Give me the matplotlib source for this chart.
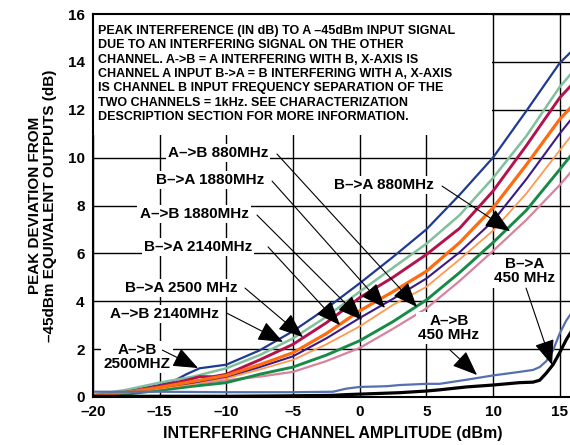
import numpy as np
import matplotlib
matplotlib.use('Agg')
import matplotlib.pyplot as plt
from matplotlib.patches import Rectangle

plt.rcParams['font.family'] = ['Liberation Sans', 'DejaVu Sans']
plt.rcParams['font.weight'] = 'bold'

# x values (dBm) for the main family of curves
x_main = [-20, -17.5, -15, -12.5, -10, -7.5, -5, -2.5, 0, 2.5, 5, 7.5, 10, 12.5, 15, 16]

# (dB)
navy_x = [-20, -17.5, -15, -14, -13, -12, -10, -7.5, -5, -2.5, 0, 2.5, 5, 7.5, 10, 12.5, 15, 16]
navy_y = [0.08, 0.25, 0.5, 0.65, 0.95, 1.2, 1.35, 1.95, 2.75, 3.7, 4.75, 5.85, 7.0, 8.45, 10.0, 11.95, 13.95, 14.5]
sage_y = [0.08, 0.3, 0.6, 0.85, 1.2, 1.75, 2.45, 3.35, 4.4, 5.4, 6.4, 7.6, 9.15, 10.9, 12.95, 13.6]
crimson_x = [-20, -17.5, -15, -13, -12, -11, -10, -7.5, -5, -2.5, 0, 2.5, 5, 7.5, 10, 12.5, 15, 16]
crimson_y = [0.05, 0.2, 0.45, 0.7, 0.85, 0.85, 0.95, 1.55, 2.2, 3.1, 4.15, 5.0, 5.95, 7.05, 8.6, 10.5, 12.5, 13.1]
orange_y = [0.05, 0.2, 0.4, 0.65, 0.9, 1.35, 1.85, 2.65, 3.6, 4.4, 5.25, 6.45, 7.9, 9.7, 11.6, 12.2]
indigo_y = [0.05, 0.2, 0.4, 0.6, 0.85, 1.25, 1.7, 2.45, 3.3, 4.1, 4.95, 6.05, 7.35, 9.1, 11.0, 11.7]
ltorange_y = [0.05, 0.18, 0.35, 0.55, 0.78, 1.15, 1.55, 2.2, 2.95, 3.85, 4.6, 5.75, 6.95, 8.5, 10.3, 11.0]
green_y = [0.05, 0.12, 0.28, 0.45, 0.6, 0.95, 1.25, 1.75, 2.35, 3.15, 4.05, 5.2, 6.45, 7.8, 9.5, 10.2]
pink_y = [0.05, 0.15, 0.35, 0.55, 0.7, 0.85, 1.05, 1.5, 2.05, 2.85, 3.7, 4.85, 6.1, 7.4, 8.85, 9.5]

# 450 MHz curves
x450 = [-20, -15, -10, -5, -2, -1, 0, 2, 3, 5, 6, 8, 10, 12, 13, 13.5, 14, 14.5, 15, 15.5, 16]
blue450_y = [0.22, 0.22, 0.2, 0.2, 0.22, 0.35, 0.42, 0.45, 0.5, 0.55, 0.55, 0.72, 0.9, 1.05, 1.13, 1.25, 1.5, 1.95, 2.65, 3.2, 3.6]
black450_y = [0.03, 0.03, 0.03, 0.05, 0.07, 0.1, 0.12, 0.16, 0.18, 0.25, 0.3, 0.42, 0.5, 0.6, 0.62, 0.7, 1.0, 1.35, 1.85, 2.4, 2.85]

xticks = [-20, -15, -10, -5, 0, 5, 10, 15]
xticklabels = ['–20', '–15', '–10', '–5', '0', '5', '10', '15']
yticks = [0, 2, 4, 6, 8, 10, 12, 14, 16]

box_text = ('PEAK INTERFERENCE (IN dB) TO A –45dBm INPUT SIGNAL\n'
            'DUE TO AN INTERFERING SIGNAL ON THE OTHER\n'
            'CHANNEL. A->B = A INTERFERING WITH B, X-AXIS IS\n'
            'CHANNEL A INPUT B->A = B INTERFERING WITH A, X-AXIS\n'
            'IS CHANNEL B INPUT FREQUENCY SEPARATION OF THE\n'
            'TWO CHANNELS = 1kHz. SEE CHARACTERIZATION\n'
            'DESCRIPTION SECTION FOR MORE INFORMATION.')

# label text, text centre, arrow start, arrow tip (data units)
labels = ['A–>B 880MHz', 'B–>A 1880MHz', 'A–>B 1880MHz', 'B–>A 2140MHz',
          'B–>A 2500 MHz', 'A–>B 2140MHz', 'A–>B\n2500MHZ', 'B–>A 880MHz',
          'B–>A\n450 MHz', 'A–>B\n450 MHz']
label_pos = [(-10.63, 10.19), (-11.22, 9.06), (-12.42, 7.64), (-12.12, 6.27),
             (-13.4, 4.55), (-14.67, 3.47), (-16.7, 1.67), (1.83, 8.86),
             (12.4, 5.26), (6.7, 2.88)]
arrow_from = [(-6.2, 10.15), (-6.57, 9.02), (-7.7, 7.6), (-6.87, 6.27),
              (-8.6, 4.55), (-9.95, 3.5), (-14.8, 1.96), (6.18, 8.81),
              (12.48, 4.55), (6.78, 1.96)]
arrow_to = [(4.3, 3.76), (1.9, 3.72), (0.18, 3.22), (-1.47, 3.0),
            (-4.25, 2.5), (-5.75, 2.3), (-12.12, 1.21), (11.28, 6.93),
            (14.43, 1.34), (8.8, 0.92)]

fig = plt.figure(figsize=(5.7, 4.45), dpi=100)
ax = fig.add_axes([93/570, 48/445, 480/570, 383/445])

ax.plot(navy_x, navy_y, color='#1f3a93', lw=1.6, zorder=3)
ax.plot(x_main, sage_y, color='#80c09c', lw=1.8, zorder=3)
ax.plot(crimson_x, crimson_y, color='#b4124c', lw=2.1, zorder=3)
ax.plot(x_main, pink_y, color='#d9829c', lw=1.6, zorder=3)
ax.plot(x_main, green_y, color='#178a45', lw=2.1, zorder=3)
ax.plot(x_main, ltorange_y, color='#ff9a50', lw=1.3, zorder=3)
ax.plot(x_main, indigo_y, color='#3a1a8a', lw=1.5, zorder=3)
ax.plot(x_main, orange_y, color='#ff6b0f', lw=2.3, zorder=3)
ax.plot(x450, blue450_y, color='#5570b0', lw=1.6, zorder=3)
ax.plot(x450, black450_y, color='black', lw=2.3, zorder=3)

ax.set_xlim(-20, 16)
ax.set_ylim(0, 16)
ax.set_xticks(xticks)
ax.set_xticklabels(xticklabels)
ax.set_yticks(yticks)
ax.tick_params(length=0, labelsize=11)
ax.tick_params(axis='x', pad=6)
ax.tick_params(axis='y', pad=6)
for lab in ax.get_xticklabels() + ax.get_yticklabels():
    lab.set_fontweight('bold')
ax.grid(True, color='black', lw=1.0, zorder=1)
for s in ax.spines.values():
    s.set_linewidth(1.5)
    s.set_zorder(5)

# white box with the description text
ax.add_patch(Rectangle((-20, 10.95), 29.9, 5.05, facecolor='white', edgecolor='none', zorder=2))
ax.text(-19.65, 15.55, box_text, fontsize=9, fontweight='bold', va='top', ha='left',
        linespacing=1.27, zorder=4)

for txt, pos, a, b in zip(labels, label_pos, arrow_from, arrow_to):
    ax.text(pos[0], pos[1], txt, fontsize=11, fontweight='bold', ha='center', va='center',
            linespacing=1.05, zorder=4,
            bbox=dict(facecolor='white', edgecolor='none', pad=1.5))
    ax.annotate('', xy=b, xytext=a, zorder=6,
                arrowprops=dict(arrowstyle='-|>,head_length=0.65,head_width=0.26',
                                color='black', lw=0.8, mutation_scale=24,
                                shrinkA=0, shrinkB=0))

ax.set_xlabel('INTERFERING CHANNEL AMPLITUDE (dBm)', fontsize=11.5, fontweight='bold', labelpad=5)
ax.set_ylabel('PEAK DEVIATION FROM\n–45dBm EQUIVALENT OUTPUTS (dB)', fontsize=11,
              fontweight='bold', labelpad=8, linespacing=1.05)

fig.savefig('out.png', dpi=100)
